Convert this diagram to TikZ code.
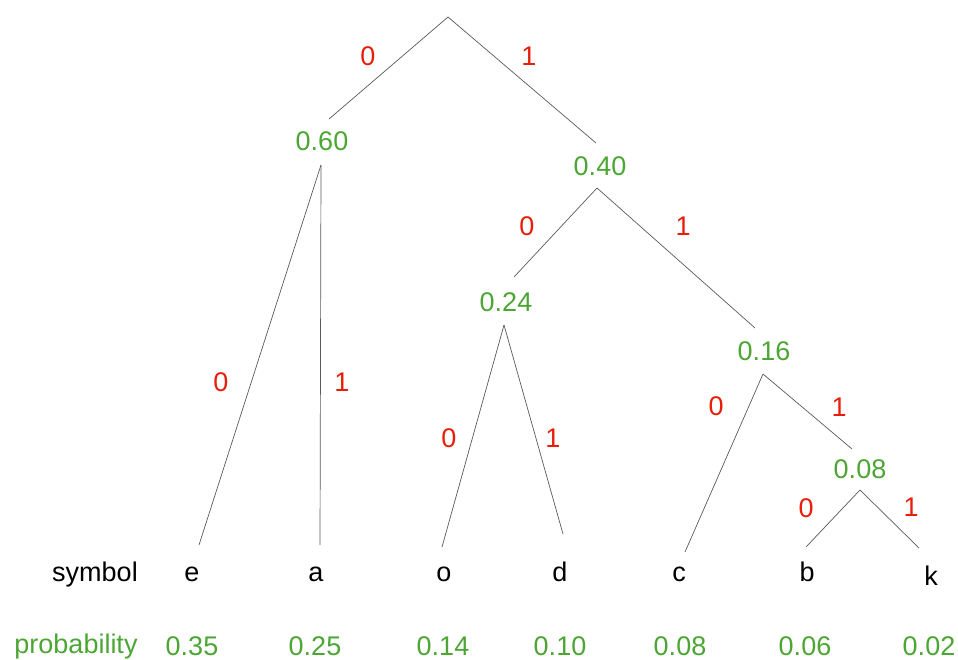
\documentclass[tikz,border=0pt]{standalone}
\usepackage{fontspec}
\setmainfont{Liberation Sans}
\definecolor{pgreen}{RGB}{76,166,52}
\definecolor{bitred}{RGB}{232,30,10}
\begin{document}
\begin{tikzpicture}[x=1pt,y=-1pt,
  every node/.style={inner sep=0pt,font=\fontsize{27}{32}\selectfont},
  prob/.style={text=pgreen},
  bit/.style={text=bitred},
  basetxt/.style={anchor=base},
  edge/.style={draw=black!65,line width=0.7pt}]
\useasboundingbox (0,0) rectangle (958,659);

% internal probability nodes
\node[prob] (n60) at (322,141) {0.60};
\node[prob] (n40) at (600,166) {0.40};
\node[prob] (n24) at (506,302) {0.24};
\node[prob] (n16) at (764,351) {0.16};
\node[prob] (n08) at (860,469) {0.08};

% connector end points
\coordinate (root) at (448,17);
\coordinate (n60in) at (329,119);
\coordinate (n60out) at (321,165);
\coordinate (n40in) at (596,143);
\coordinate (n40out) at (597,188);
\coordinate (n24in) at (514,277);
\coordinate (n24out) at (504,325);
\coordinate (n16in) at (755,328);
\coordinate (n16out) at (763,374);
\coordinate (n08in) at (852,449);
\coordinate (n08out) at (860,490);
\coordinate (etop) at (199,545);
\coordinate (atop) at (320,545);
\coordinate (otop) at (442,547);
\coordinate (dtop) at (563,534);
\coordinate (ctop) at (685,552);
\coordinate (btop) at (806,547);
\coordinate (ktop) at (919,548);

% connectors
\draw[edge] (root) -- (n60in);
\draw[edge] (root) -- (n40in);
\draw[edge] (n60out) -- (etop);
\draw[edge] (n60out) -- (atop);
\draw[edge] (n40out) -- (n24in);
\draw[edge] (n40out) -- (n16in);
\draw[edge] (n24out) -- (otop);
\draw[edge] (n24out) -- (dtop);
\draw[edge] (n16out) -- (ctop);
\draw[edge] (n16out) -- (n08in);
\draw[edge] (n08out) -- (btop);
\draw[edge] (n08out) -- (ktop);

% bit labels
\node[bit] (b1) at (368,56) {0};
\node[bit] (b2) at (529,56) {1};
\node[bit] (b3) at (221,382) {0};
\node[bit] (b4) at (342,382) {1};
\node[bit] (b5) at (527,226) {0};
\node[bit] (b6) at (683,226) {1};
\node[bit] (b7) at (449,438) {0};
\node[bit] (b8) at (553,438) {1};
\node[bit] (b9) at (716,406) {0};
\node[bit] (b10) at (839,407) {1};
\node[bit] (b11) at (806,508) {0};
\node[bit] (b12) at (911,507) {1};

% symbol row
\node[basetxt] (symlbl) at (95,581) {symbol};
\node[basetxt] (se) at (192,581) {e};
\node[basetxt] (sa) at (316,581) {a};
\node[basetxt] (so) at (444,581) {o};
\node[basetxt] (sd) at (560,581) {d};
\node[basetxt] (sc) at (679,581) {c};
\node[basetxt] (sb) at (807,581) {b};
\node[basetxt] (sk) at (931,585) {k};

% probability row
\node[basetxt,prob] (problbl) at (76,653) {probability};
\node[basetxt,prob] (pe) at (192,655) {0.35};
\node[basetxt,prob] (pa) at (315,655) {0.25};
\node[basetxt,prob] (po) at (443,655) {0.14};
\node[basetxt,prob] (pd) at (560,655) {0.10};
\node[basetxt,prob] (pc) at (680,655) {0.08};
\node[basetxt,prob] (pb) at (805,655) {0.06};
\node[basetxt,prob] (pk) at (929,655) {0.02};
\end{tikzpicture}
\end{document}
